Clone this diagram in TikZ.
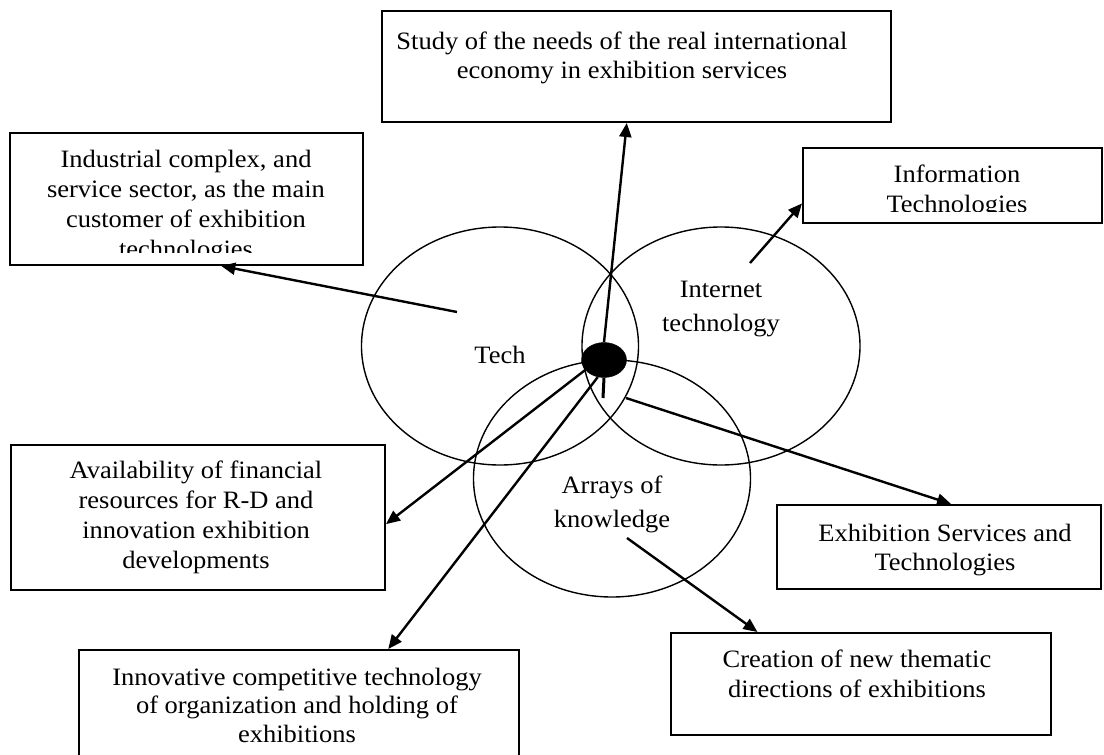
\documentclass[tikz,border=0pt]{standalone}
\usepackage{fontspec}
\setmainfont{Liberation Serif}[FakeStretch=1.06]
\usetikzlibrary{arrows.meta,shapes.geometric,calc}
\begin{document}
\begin{tikzpicture}[x=1pt,y=-1pt,
  box/.style={draw, line width=2pt, rectangle, inner sep=0pt, anchor=north west},
  lbl/.style={align=center, inner sep=0pt, anchor=base, font=\fontsize{25}{30}\selectfont},
  lbltight/.style={align=center, inner sep=0pt, anchor=base, font=\fontsize{25}{28.5}\selectfont},
  clbl/.style={align=center, inner sep=0pt, anchor=base, font=\fontsize{25}{34}\selectfont},
  ring/.style={draw, ellipse, line width=1.4pt, inner sep=0pt},
  arr/.style={line width=2.4pt, -{Triangle[length=14pt,width=12pt]}}]
\clip (0,0) rectangle (1104,755);

% overlapping ellipses
\node[ring, minimum width=277pt, minimum height=238pt] (tech) at (500,346) {};
\node[ring, minimum width=278pt, minimum height=238pt] (inet) at (721,346) {};
\node[ring, minimum width=277pt, minimum height=237pt] (know) at (612,478.5) {};
\node[clbl] (techL) at (500,363) {Tech};
\node[clbl] (inetL) at (721,331) {Internet\\technology};
\node[clbl] (knowL) at (612,527) {Arrays of\\knowledge};

% centre dot
\node[draw, fill=black, ellipse, minimum width=45pt, minimum height=35pt, inner sep=0pt] (dot) at (604,360) {};

% boxes
\node[box, minimum width=509pt, minimum height=111pt] (study) at (381,10) {};
\node[box, minimum width=353pt, minimum height=132pt] (ind) at (9,132) {};
\node[box, minimum width=299pt, minimum height=75pt] (info) at (802,147) {};
\node[box, minimum width=374pt, minimum height=145pt] (avail) at (10,444) {};
\node[box, minimum width=324pt, minimum height=84pt] (exh) at (776,504) {};
\node[box, minimum width=380pt, minimum height=102pt] (cre) at (670,632) {};
\node[box, minimum width=440pt, minimum height=120pt] (inno) at (78,649) {};

% box texts (anchor = baseline of the last line)
\node[lbltight] (studyT) at (622,78) {Study of the needs of the real international\\economy in exhibition services};
\begin{scope}
\clip (9,132) rectangle (362,252);
\node[lbl] (indT) at (186,257) {Industrial complex, and\\service sector, as the main\\customer of exhibition\\technologies};
\end{scope}
\begin{scope}
\clip (802,147) rectangle (1101,211);
\node[lbl] (infoT) at (957,212) {Information\\Technologies};
\end{scope}
\node[lbl] (availT) at (196,568) {Availability of financial\\resources for R-D and\\innovation exhibition\\developments};
\node[lbltight] (exhT) at (945,570) {Exhibition Services and\\Technologies};
\node[lbl] (creT) at (857,697) {Creation of new thematic\\directions of exhibitions};
\node[lbltight] (innoT) at (297,742) {Innovative competitive technology\\of organization and holding of\\exhibitions};

% free ends of connectors
\coordinate (sInd) at (457,312);
\coordinate (sInfo) at (750,263);
\coordinate (sExh) at (626,398);
\coordinate (sCre) at (627,538);
\coordinate (tick) at (603,398);

% connectors
\draw[arr] (dot.north) -- ($(study.south west)!0.481!(study.south east)$);
\draw[arr] (sInd) -- ($(ind.south west)!0.598!(ind.south east)$);
\draw[arr] (sInfo) -- ($(info.north west)!0.733!(info.south west)$);
\draw[arr] (dot.208) -- ($(avail.north east)!0.545!(avail.south east)$);
\draw[arr] (dot.250) -- ($(inno.north west)!0.702!(inno.north east)$);
\draw[arr] (sExh) -- ($(exh.north west)!0.537!(exh.north east)$);
\draw[arr] (sCre) -- ($(cre.north west)!0.229!(cre.north east)$);
\draw[line width=3pt] (dot.south) -- (tick);
\end{tikzpicture}
\end{document}
